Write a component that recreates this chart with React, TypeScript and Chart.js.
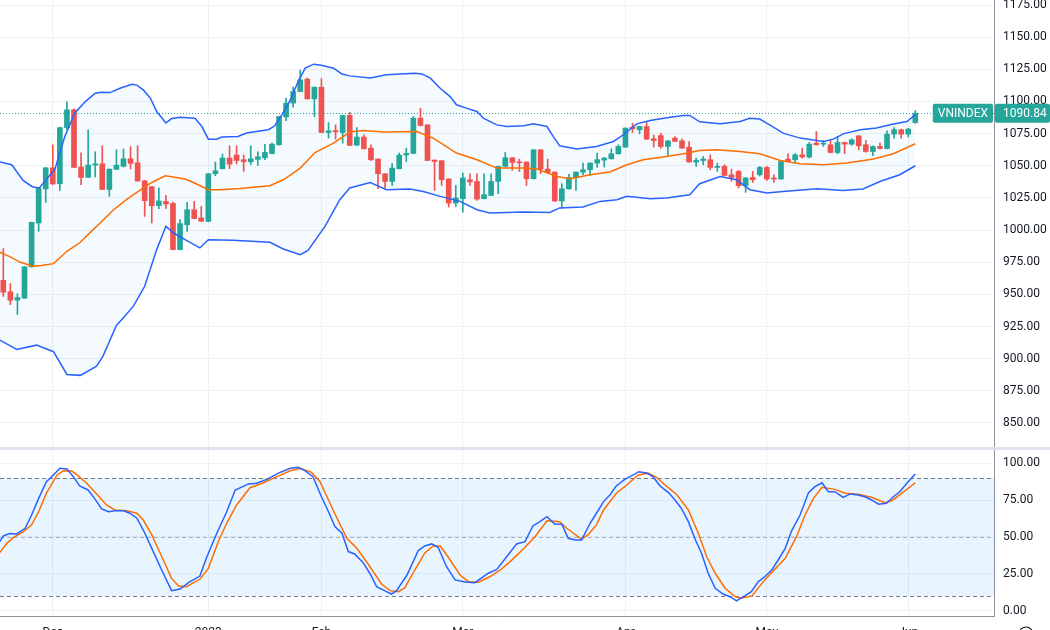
import React, { useEffect, useRef } from "react";
import { Chart, registerables } from "chart.js";

Chart.register(...registerables);

// ---------- DATA ----------
const SYMBOL = "VNINDEX";

const OPEN = [
  960.9, 952.0, 945.5, 947.0, 971.4, 1005.5, 1032.0, 1048.4, 1036.0, 1079.7,
  1093.5, 1049.0, 1041.0, 1050.5, 1051.5, 1031.6, 1047.2, 1049.5, 1055.4, 1052.3,
  1038.3, 1033.7, 1019.0, 1022.3, 1020.7, 984.8, 1004.2, 1015.8, 1009.4, 1006.8,
  1043.8, 1047.7, 1056.0, 1058.3, 1054.7, 1053.1, 1055.0, 1056.2, 1059.5, 1066.3,
  1088.0, 1098.7, 1107.7, 1117.3, 1102.0, 1111.1, 1075.9, 1077.4, 1075.9, 1089.1,
  1066.0, 1072.3, 1063.7, 1055.2, 1043.8, 1037.8, 1047.7, 1058.3, 1059.6, 1087.0,
  1081.8, 1054.4, 1053.9, 1039.7, 1021.0, 1024.4, 1039.1, 1037.8, 1024.4, 1026.9,
  1037.8, 1049.5, 1056.2, 1053.1, 1052.9, 1039.9, 1062.4, 1047.4, 1045.1, 1022.6,
  1032.0, 1040.9, 1045.0, 1046.9, 1052.1, 1054.4, 1055.4, 1059.3, 1064.5, 1080.0,
  1078.0, 1080.5, 1071.0, 1073.5, 1065.0, 1071.5, 1069.4, 1064.5, 1052.9, 1054.1,
  1054.7, 1048.7, 1049.5, 1043.0, 1045.6, 1034.5, 1040.9, 1043.0, 1048.7, 1040.5,
  1039.7, 1055.2, 1054.7, 1058.5, 1056.8, 1067.6, 1066.8, 1066.3, 1060.3, 1068.1,
  1066.8, 1073.3, 1066.3, 1061.1, 1065.0, 1063.4, 1074.6, 1078.0, 1074.6, 1083.6,
];
const HIGH = [
  985.6, 958.4, 950.4, 971.6, 1006.2, 1032.6, 1048.6, 1066.3, 1080.0, 1099.7,
  1094.0, 1060.1, 1078.0, 1060.9, 1065.5, 1047.6, 1062.4, 1063.0, 1064.8, 1065.5,
  1038.5, 1034.0, 1032.9, 1027.0, 1021.8, 1008.1, 1021.5, 1022.3, 1018.4, 1044.0,
  1052.9, 1059.1, 1065.5, 1065.5, 1058.3, 1065.5, 1060.9, 1066.6, 1067.6, 1088.5,
  1102.6, 1111.1, 1124.5, 1118.3, 1111.3, 1117.8, 1083.6, 1081.8, 1089.3, 1091.7,
  1079.7, 1074.0, 1066.3, 1055.4, 1044.0, 1051.6, 1059.9, 1063.7, 1088.3, 1094.8,
  1082.0, 1054.6, 1054.1, 1039.9, 1034.7, 1044.4, 1043.8, 1043.8, 1043.8, 1043.8,
  1049.7, 1060.3, 1056.4, 1055.2, 1053.1, 1062.6, 1062.6, 1055.2, 1045.3, 1036.0,
  1043.3, 1045.3, 1052.1, 1052.3, 1059.9, 1056.5, 1063.2, 1066.3, 1079.5, 1083.2,
  1080.7, 1083.6, 1073.8, 1075.4, 1069.6, 1072.7, 1070.7, 1068.9, 1056.0, 1057.2,
  1058.5, 1052.1, 1050.8, 1047.4, 1046.5, 1041.0, 1045.6, 1049.5, 1049.5, 1043.0,
  1053.5, 1059.3, 1059.5, 1063.7, 1068.1, 1076.6, 1069.6, 1069.6, 1072.7, 1068.5,
  1071.0, 1073.5, 1069.6, 1065.5, 1067.6, 1077.2, 1079.7, 1078.5, 1079.0, 1092.9,
];
const LOW = [
  948.3, 942.1, 934.3, 946.8, 971.2, 999.0, 1021.5, 1035.5, 1030.8, 1078.0,
  1048.5, 1035.2, 1040.8, 1041.2, 1031.4, 1026.2, 1047.0, 1049.0, 1047.4, 1038.0,
  1010.6, 1005.5, 1016.6, 1016.8, 984.5, 984.5, 999.0, 1008.7, 1006.5, 1006.5,
  1042.2, 1047.5, 1047.7, 1051.5, 1045.6, 1051.0, 1050.2, 1054.7, 1059.3, 1066.0,
  1085.0, 1095.6, 1107.5, 1101.8, 1088.3, 1075.7, 1071.5, 1070.7, 1067.6, 1065.6,
  1065.8, 1063.0, 1054.0, 1032.1, 1032.7, 1034.7, 1047.5, 1053.3, 1059.4, 1080.9,
  1053.9, 1030.8, 1034.7, 1017.9, 1018.4, 1014.0, 1034.7, 1023.0, 1024.2, 1026.7,
  1028.3, 1049.3, 1046.4, 1045.6, 1034.7, 1039.7, 1043.8, 1043.8, 1022.3, 1017.0,
  1031.8, 1030.8, 1043.0, 1042.2, 1049.0, 1049.0, 1055.2, 1059.1, 1064.3, 1075.9,
  1074.8, 1070.5, 1064.5, 1063.7, 1058.0, 1068.7, 1063.5, 1052.7, 1049.5, 1050.8,
  1046.9, 1045.6, 1042.2, 1037.8, 1032.7, 1029.3, 1037.0, 1042.0, 1038.6, 1037.0,
  1039.5, 1053.0, 1052.0, 1056.0, 1056.0, 1066.0, 1065.0, 1060.0, 1059.3, 1059.3,
  1066.0, 1062.4, 1060.5, 1057.8, 1063.0, 1063.0, 1071.5, 1071.5, 1072.3, 1083.0,
];
const CLOSE = [
  951.6, 945.4, 947.5, 971.4, 1006.0, 1032.4, 1048.4, 1035.8, 1079.7, 1093.5,
  1048.7, 1040.9, 1050.5, 1051.5, 1031.6, 1047.4, 1050.5, 1055.4, 1051.8, 1038.1,
  1022.8, 1018.9, 1022.6, 1020.3, 984.8, 1005.0, 1015.8, 1008.9, 1006.8, 1043.8,
  1046.1, 1056.0, 1051.3, 1054.1, 1053.1, 1055.4, 1057.0, 1060.4, 1066.8, 1088.3,
  1098.7, 1107.7, 1116.8, 1102.0, 1111.1, 1075.9, 1077.2, 1076.4, 1089.1, 1065.8,
  1072.3, 1063.2, 1054.7, 1043.8, 1037.8, 1048.2, 1058.3, 1059.6, 1087.0, 1081.3,
  1054.1, 1053.3, 1039.1, 1021.0, 1025.0, 1040.5, 1037.5, 1024.1, 1027.5, 1037.8,
  1049.5, 1056.2, 1052.6, 1052.3, 1039.9, 1062.4, 1047.4, 1044.8, 1022.6, 1032.1,
  1040.9, 1045.1, 1046.9, 1052.1, 1054.7, 1056.0, 1059.3, 1065.0, 1079.3, 1078.7,
  1080.5, 1070.7, 1069.6, 1065.0, 1069.4, 1068.9, 1063.7, 1052.9, 1054.1, 1055.2,
  1048.7, 1049.5, 1042.5, 1040.9, 1034.5, 1040.5, 1039.1, 1048.7, 1039.7, 1039.7,
  1053.3, 1053.3, 1058.5, 1056.8, 1066.8, 1066.3, 1067.3, 1060.3, 1068.1, 1066.8,
  1070.2, 1065.5, 1061.1, 1065.0, 1063.4, 1074.6, 1078.0, 1074.6, 1078.5, 1090.84,
];

// Bollinger bands: [bar index, price]
const BB_UPPER: [number, number][] = [
  [-0.5, 1052.9], [1.2, 1050.8], [2.8, 1038.6], [4.1, 1033.7], [5.1, 1032.7], [7.3, 1047.4],
  [8.7, 1072.7], [10.1, 1090.9], [11.6, 1099.9], [13.0, 1106.4], [13.9, 1107.2], [15.1, 1106.9],
  [16.5, 1110.3], [18.2, 1113.4], [18.9, 1112.7], [19.8, 1109], [20.8, 1102.6], [21.7, 1092.2],
  [23.0, 1083.2], [23.8, 1086.7], [25.0, 1087.8], [27.1, 1087], [28.1, 1080.5], [29.0, 1070.7],
  [30.2, 1070.7], [30.9, 1072.3], [33.2, 1072.7], [34.4, 1075.4], [35.8, 1076.6], [37.5, 1078],
  [38.4, 1081.1], [39.4, 1089.6], [40.6, 1101.2], [41.7, 1115.5], [42.7, 1125.9], [43.9, 1129],
  [45.0, 1128.2], [46.7, 1125.9], [47.9, 1121.4], [49.0, 1119.9], [51.9, 1118.3], [54.2, 1120.7],
  [56.1, 1121.4], [58.2, 1122], [59.2, 1121.4], [60.4, 1118.1], [61.8, 1110.3], [63.2, 1103.8],
  [64.1, 1097.4], [65.5, 1094.8], [67.0, 1092.2], [67.9, 1087], [69.8, 1081.8], [71.2, 1080.5],
  [73.6, 1081.1], [75.0, 1082.6], [76.9, 1080.5], [77.8, 1072.7], [78.7, 1065.5], [81.1, 1063],
  [83.9, 1065], [86.3, 1068.9], [87.7, 1074.1], [89.6, 1082.6], [91.5, 1085.2], [94.3, 1087.8],
  [96.2, 1089.1], [97.1, 1089.1], [98.5, 1084.2], [101.4, 1082.6], [104.2, 1084.4], [105.6, 1087],
  [107.0, 1086.3], [108.4, 1081.8], [110.3, 1075.4], [112.7, 1071.5], [116.0, 1068.9], [117.4, 1070.7],
  [118.8, 1074.8], [121.2, 1078], [123.5, 1079.3], [125.9, 1082.4], [127.8, 1084.4], [129, 1089.6],
];
const BB_BASIS: [number, number][] = [
  [-0.5, 982.7], [1.0, 979.1], [2.4, 974.9], [4.2, 971.8], [5.4, 972.4], [7.1, 973.9],
  [9.0, 983.5], [10.9, 990.5], [12.3, 998.2], [13.7, 1005.5], [15.6, 1015.8], [17.5, 1024.1],
  [19.3, 1030.8], [21.0, 1037], [22.9, 1042.2], [24.5, 1040.9], [25.7, 1039.7], [26.9, 1037],
  [29.0, 1031.4], [30.7, 1031.4], [33.5, 1032.4], [37.7, 1034.5], [39.6, 1039.1], [42.0, 1048.2],
  [44.1, 1060.3], [46.7, 1067.6], [49.0, 1076.2], [50.9, 1077.4], [53.8, 1076.2], [58.5, 1076.6],
  [60.8, 1071.5], [64.1, 1059.9], [67.0, 1054.7], [69.8, 1048.2], [73.6, 1048.2], [75.5, 1047.4],
  [78.3, 1041.7], [80.2, 1039.9], [83.0, 1043], [85.8, 1045.1], [88.2, 1050.8], [90.5, 1054.7],
  [93.8, 1057.2], [96.2, 1059.3], [98.5, 1061.9], [100.9, 1062.4], [104.2, 1061.1], [107.0, 1059.3],
  [109.9, 1054.1], [112.7, 1051.6], [116.0, 1050.8], [119.3, 1052.1], [123.1, 1055.2], [125.9, 1059.3],
  [129, 1067.1],
];
const BB_LOWER: [number, number][] = [
  [-0.5, 914.4], [1.9, 907.1], [4.7, 910.5], [7.1, 905.4], [9.0, 887.7], [10.9, 887],
  [13.2, 894.2], [14.1, 902], [16.0, 925.8], [17.0, 931.8], [18.4, 940.8], [20.0, 956.3],
  [21.7, 984.8], [23.0, 1002.9], [24.1, 997.7], [25.7, 992.5], [27.8, 986.1], [29.0, 992.5],
  [32.5, 992], [37.7, 990.5], [39.6, 985.3], [42.0, 980.9], [43.1, 984.2], [45.5, 1002.9],
  [47.6, 1023.6], [49.0, 1032.7], [51.9, 1037], [54.2, 1031.4], [57.5, 1031.9], [59.4, 1030],
  [61.8, 1026.2], [64.6, 1022.3], [67.0, 1015.8], [68.8, 1013.3], [73.6, 1014], [77.3, 1013.7],
  [78.7, 1017.2], [82.0, 1017.9], [84.4, 1022.3], [86.8, 1023.6], [88.2, 1026.2], [91.5, 1024.4],
  [93.8, 1024.9], [97.1, 1027.5], [98.5, 1036], [101.4, 1041.7], [103.7, 1039.1], [105.6, 1031.4],
  [108.0, 1028.8], [110.3, 1030], [115.1, 1032.1], [118.8, 1030.8], [121.6, 1031.9], [124.0, 1037.8],
  [126.8, 1043], [129, 1050],
];

// Stochastic %K and %D: [bar index, value]
const STOCH_K: [number, number][] = [
  [-0.5, 46.8], [0, 50.7], [0.9, 52.3], [1.9, 52.1], [3.1, 55.9], [4.0, 64.9], [5.0, 76.2],
  [6.1, 87.5], [7.1, 92.1], [8.0, 96.6], [9.0, 96.1], [9.9, 90.9], [10.8, 84.6], [12.0, 81.9],
  [13.0, 75.5], [13.9, 69.0], [14.9, 67.1], [15.8, 67.8], [17.0, 67.8], [17.9, 66.1], [18.9, 62.7],
  [19.8, 54.7], [21.0, 42.3], [22.4, 27.6], [23.8, 13.6], [25.0, 14.7], [26.2, 19.0], [27.8, 23.5],
  [28.8, 36.6], [30.2, 52.5], [31.6, 67.1], [32.8, 81.9], [34.7, 86.0], [35.8, 86.5], [37.3, 89.1],
  [38.9, 93.3], [40.6, 96.6], [41.7, 97.3], [42.7, 94.9], [43.8, 90.9], [45.0, 77.3], [46.0, 67.1],
  [46.9, 57.0], [47.9, 52.5], [48.8, 40.1], [49.7, 38.5], [50.9, 32.6], [51.9, 24.9], [52.8, 16.3],
  [54.2, 12.9], [54.9, 11.3], [55.6, 13.4], [57.1, 24.2], [58.7, 40.8], [59.6, 43.9], [60.6, 45.3],
  [61.5, 43.0], [62.7, 29.8], [63.9, 20.9], [65.3, 19.5], [66.7, 19.0], [68.6, 25.4], [69.8, 28.0],
  [71.2, 36.6], [72.6, 45.3], [73.8, 46.8], [74.9, 57.5], [75.9, 60.4], [76.9, 63.8], [78.0, 58.8],
  [79.0, 58.6], [79.9, 49.1], [80.9, 48.0], [81.8, 48.0], [83.0, 59.3], [83.9, 66.1], [84.9, 74.0],
  [85.8, 78.5], [86.7, 84.6], [87.9, 89.1], [89.1, 92.1], [89.9, 94.3], [91.0, 93.4], [91.9, 90.9],
  [92.9, 84.6], [94.1, 80.1], [95.0, 75.1], [95.9, 69.5], [96.9, 60.4], [97.8, 49.1], [98.8, 38.5],
  [99.7, 25.4], [100.7, 15.2], [101.8, 11.3], [102.8, 9.5], [103.7, 6.6], [104.9, 10.0], [105.8, 12.9],
  [106.8, 19.7], [107.7, 23.0], [108.7, 27.6], [109.6, 34.4], [110.6, 42.3], [111.5, 54.2],
  [112.7, 64.9], [113.9, 80.1], [114.8, 84.1], [115.8, 86.8], [116.7, 80.7], [117.6, 80.7],
  [118.8, 76.9], [119.8, 79.2], [120.9, 78.5], [121.9, 77.3], [122.8, 75.1], [123.8, 72.2],
  [124.9, 72.9], [125.9, 77.3], [126.8, 80.7], [127.8, 86.5], [129, 92.8],
];
const STOCH_D: [number, number][] = [
  [-0.5, 39.4], [0.5, 45.7], [1.4, 49.5], [2.8, 53.4], [4.0, 58.2], [5.0, 67.1], [6.1, 79.7],
  [7.6, 92.1], [8.5, 94.9], [9.7, 94.7], [10.6, 91.4], [11.8, 86.5], [13.2, 79.2], [14.6, 71.7],
  [15.8, 68.3], [17.5, 67.8], [18.9, 66.1], [19.8, 61.5], [21.0, 51.4], [22.2, 39.0], [23.8, 21.9],
  [24.8, 16.7], [25.9, 16.3], [27.8, 21.3], [29.0, 28.7], [30.4, 46.8], [31.6, 59.3], [33.0, 71.7],
  [34.9, 83.4], [36.8, 86.8], [38.7, 90.9], [40.6, 94.9], [42.0, 96.6], [43.6, 93.8], [44.8, 87.5],
  [46.0, 75.1], [47.2, 62.7], [48.6, 49.1], [50.0, 42.3], [51.6, 31.7], [53.5, 18.1], [54.7, 13.6],
  [55.9, 12.9], [56.8, 15.6], [58.2, 27.6], [59.6, 39.0], [60.8, 43.9], [61.8, 43.9], [62.9, 36.6],
  [64.6, 24.2], [65.8, 19.7], [67.2, 19.3], [68.8, 23.0], [70.3, 27.6], [71.7, 33.3], [73.8, 43.0],
  [75.2, 50.2], [76.9, 61.0], [78.7, 60.4], [79.7, 55.9], [81.8, 48.4], [82.7, 51.4], [83.9, 58.2],
  [84.9, 68.3], [86.7, 79.7], [87.9, 84.1], [89.8, 92.1], [91.2, 93.3], [92.4, 90.5], [93.6, 85.3],
  [95.3, 78.5], [96.9, 68.3], [98.3, 52.5], [99.5, 36.6], [100.7, 25.4], [102.1, 15.2], [103.5, 9.5],
  [104.4, 8.4], [105.9, 10.0], [107.7, 20.9], [110.6, 35.5], [112.2, 50.2], [113.4, 64.9], [114.6, 76.2],
  [115.8, 83.7], [117.6, 82.3], [119.1, 79.7], [120.9, 79.0], [122.8, 76.9], [124.7, 73.3],
  [125.7, 74.6], [127.1, 79.7], [129, 86.8],
];

const PRICE_TICKS = [850, 875, 900, 925, 950, 975, 1000, 1025, 1050, 1075, 1100, 1125, 1150, 1175];
const STOCH_TICKS = [0, 25, 50, 75, 100];
const STOCH_UPPER = 90;
const STOCH_MID = 50;
const STOCH_LOWER = 10;
const MONTH_TICKS = [7, 29, 45, 65, 88, 108, 128];
const MONTH_LABELS = ["Dec", "2023", "Feb", "Mar", "Apr", "May", "Jun"];

// ---------- STYLE ----------
const UP = "#26a69a";
const DOWN = "#ef5350";
const BAND_BLUE = "#2962ff";
const BASIS_ORANGE = "#ff6d00";
const GRID = "#edf1f6";
const AXIS_LINE = "#8f929b";
const TEXT = "#131722";
const FONT = "Roboto, 'Liberation Sans', sans-serif";

const X_MIN = -0.467;
const X_MAX = 140.13;
const PRICE_MIN = 831.3;
const PRICE_MAX = 1178.9;
const STOCH_MIN = -3.6;
const STOCH_MAX = 109.0;

function xAxis(showLabels: boolean): any {
  return {
    type: "linear",
    min: X_MIN,
    max: X_MAX,
    offset: false,
    afterBuildTicks: (axis: any) => {
      axis.ticks = MONTH_TICKS.map((v) => ({ value: v }));
    },
    grid: { color: GRID, lineWidth: 1, drawTicks: false, offset: false },
    border: { display: showLabels, color: AXIS_LINE },
    ticks: {
      display: showLabels,
      autoSkip: false,
      maxRotation: 0,
      padding: 10,
      color: TEXT,
      font: { family: FONT, size: 12 },
      callback: (v: any) => {
        const k = MONTH_TICKS.indexOf(Number(v));
        return k >= 0 ? MONTH_LABELS[k] : "";
      },
    },
    afterFit: (scale: any) => {
      scale.height = showLabels ? 34 : 0;
      scale.paddingLeft = 0;
      scale.paddingRight = 0;
    },
  };
}

function yAxis(min: number, max: number, ticks: number[]): any {
  return {
    type: "linear",
    position: "right",
    min,
    max,
    afterBuildTicks: (axis: any) => {
      axis.ticks = ticks.map((v) => ({ value: v }));
    },
    grid: { color: GRID, lineWidth: 1, drawTicks: false },
    border: { color: AXIS_LINE },
    ticks: {
      color: TEXT,
      font: { family: FONT, size: 12 },
      padding: 9,
      callback: (v: any) => Number(v).toFixed(2),
    },
    afterFit: (scale: any) => {
      scale.width = 56;
      scale.paddingTop = 0;
      scale.paddingBottom = 0;
    },
  };
}

const LAST_CLOSE = CLOSE[CLOSE.length - 1];

const priceLabelPlugin = {
  id: "priceLabel",
  beforeDatasetsDraw(chart: any) {
    const { ctx, chartArea, scales } = chart;
    const y = Math.round(scales.y.getPixelForValue(LAST_CLOSE)) + 0.5;
    ctx.save();
    ctx.strokeStyle = UP;
    ctx.lineWidth = 1;
    ctx.setLineDash([1, 2]);
    ctx.beginPath();
    ctx.moveTo(chartArea.left, y);
    ctx.lineTo(chartArea.right, y);
    ctx.stroke();
    ctx.restore();
  },
  afterDraw(chart: any) {
    const { ctx, chartArea, scales, width } = chart;
    const yc = scales.y.getPixelForValue(LAST_CLOSE);
    const h = 19;
    ctx.save();
    ctx.font = `12px ${FONT}`;
    const tw = ctx.measureText(SYMBOL).width;
    const bw = tw + 10;
    ctx.fillStyle = UP;
    ctx.beginPath();
    (ctx as any).roundRect(chartArea.right - 1 - bw, yc - h / 2, bw, h, 2);
    ctx.fill();
    ctx.beginPath();
    (ctx as any).roundRect(chartArea.right + 1, yc - h / 2, width - chartArea.right - 1, h, 2);
    ctx.fill();
    ctx.fillStyle = "#ffffff";
    ctx.textBaseline = "middle";
    ctx.textAlign = "center";
    ctx.fillText(SYMBOL, chartArea.right - 1 - bw / 2, yc + 0.5);
    ctx.textAlign = "left";
    ctx.fillText(LAST_CLOSE.toFixed(2), chartArea.right + 9, yc + 0.5);
    ctx.restore();
  },
};

const stochBandsPlugin = {
  id: "stochBands",
  beforeDatasetsDraw(chart: any) {
    const { ctx, chartArea, scales } = chart;
    const yU = scales.y.getPixelForValue(STOCH_UPPER);
    const yL = scales.y.getPixelForValue(STOCH_LOWER);
    const yM = scales.y.getPixelForValue(STOCH_MID);
    ctx.save();
    ctx.fillStyle = "rgba(33,150,243,0.1)";
    ctx.fillRect(chartArea.left, yU, chartArea.right - chartArea.left, yL - yU);
    ctx.lineWidth = 1;
    ctx.setLineDash([4, 3]);
    const line = (y: number, c: string) => {
      const yy = Math.round(y) + 0.5;
      ctx.strokeStyle = c;
      ctx.beginPath();
      ctx.moveTo(chartArea.left, yy);
      ctx.lineTo(chartArea.right, yy);
      ctx.stroke();
    };
    line(yU, "#787b86");
    line(yL, "#787b86");
    line(yM, "rgba(120,123,134,0.55)");
    ctx.restore();
  },
  afterDraw(chart: any) {
    const { ctx, chartArea } = chart;
    ctx.save();
    ctx.strokeStyle = TEXT;
    ctx.lineWidth = 1.2;
    ctx.beginPath();
    ctx.arc(chartArea.right + 32, 184, 7, 0, Math.PI * 2);
    ctx.stroke();
    ctx.restore();
  },
};

export default function App() {
  const topRef = useRef<HTMLCanvasElement>(null);
  const botRef = useRef<HTMLCanvasElement>(null);

  useEffect(() => {
    const colors = CLOSE.map((c, i) => (c >= OPEN[i] ? UP : DOWN));
    const bodies = OPEN.map((o, i) => ({ x: i, y: [o, CLOSE[i]] }));
    const wicks = HIGH.map((h, i) => ({ x: i, y: [LOW[i], h] }));
    const pts = (arr: [number, number][]) => arr.map(([x, y]) => ({ x, y }));

    const lineDs = (data: any, color: string, extra: any = {}) => ({
      type: "line",
      data,
      borderColor: color,
      borderWidth: 1.5,
      pointRadius: 0,
      tension: 0,
      fill: false,
      order: 0,
      ...extra,
    });

    const top = new Chart(topRef.current as HTMLCanvasElement, {
      type: "bar",
      data: {
        datasets: [
          lineDs(pts(BB_UPPER), BAND_BLUE),
          lineDs(pts(BB_BASIS), BASIS_ORANGE),
          lineDs(pts(BB_LOWER), BAND_BLUE, { fill: "-2", backgroundColor: "rgba(33,150,243,0.05)" }),
          {
            type: "bar",
            data: wicks,
            backgroundColor: colors,
            borderWidth: 0,
            barThickness: 1,
            grouped: false,
            minBarLength: 1,
            order: 2,
          },
          {
            type: "bar",
            data: bodies,
            backgroundColor: colors,
            borderWidth: 0,
            barThickness: 5,
            grouped: false,
            minBarLength: 1,
            order: 1,
          },
        ] as any,
      },
      options: {
        responsive: false,
        maintainAspectRatio: false,
        animation: false,
        events: [],
        layout: { padding: 0, autoPadding: false } as any,
        scales: {
          x: xAxis(false),
          y: yAxis(PRICE_MIN, PRICE_MAX, PRICE_TICKS),
        },
        plugins: {
          legend: { display: false },
          tooltip: { enabled: false },
          filler: { drawTime: "beforeDatasetsDraw" } as any,
        },
      },
      plugins: [priceLabelPlugin],
    });

    const bot = new Chart(botRef.current as HTMLCanvasElement, {
      type: "line",
      data: {
        datasets: [
          lineDs(pts(STOCH_D), BASIS_ORANGE, { order: 1 }),
          lineDs(pts(STOCH_K), BAND_BLUE, { order: 0 }),
        ] as any,
      },
      options: {
        responsive: false,
        maintainAspectRatio: false,
        animation: false,
        events: [],
        layout: { padding: 0, autoPadding: false } as any,
        scales: {
          x: xAxis(true),
          y: yAxis(STOCH_MIN, STOCH_MAX, STOCH_TICKS),
        },
        plugins: {
          legend: { display: false },
          tooltip: { enabled: false },
        },
      },
      plugins: [stochBandsPlugin],
    });

    return () => {
      top.destroy();
      bot.destroy();
    };
  }, []);

  return (
    <div
      style={{
        position: "fixed",
        left: 0,
        top: 0,
        width: 1050,
        height: 630,
        overflow: "hidden",
        background: "#ffffff",
      }}
    >
      <canvas
        ref={topRef}
        width={1050}
        height={447}
        style={{ position: "absolute", left: 0, top: 0, width: 1050, height: 447 }}
      />
      <div
        style={{ position: "absolute", left: 0, top: 447, width: 1050, height: 3, background: "#e0e3eb" }}
      />
      <canvas
        ref={botRef}
        width={1050}
        height={200}
        style={{ position: "absolute", left: 0, top: 450, width: 1050, height: 200 }}
      />
    </div>
  );
}
